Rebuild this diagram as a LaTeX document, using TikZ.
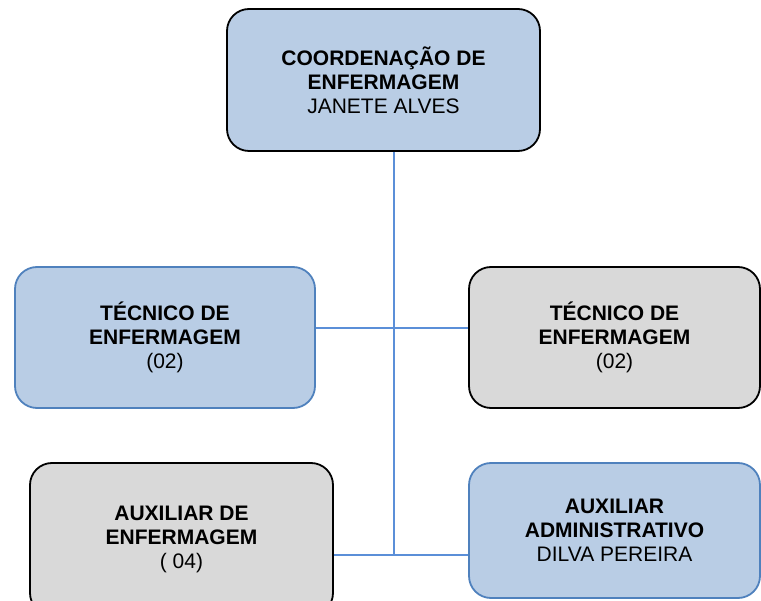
\documentclass[tikz,border=0pt]{standalone}
\usepackage{fontspec}
\setmainfont{Liberation Sans}
\usepackage{tikz}
\usetikzlibrary{positioning}

\definecolor{caixaazul}{HTML}{B9CDE5}
\definecolor{bordaazul}{HTML}{4F81BD}
\definecolor{caixacinza}{HTML}{D9D9D9}
\definecolor{linhaazul}{HTML}{5B8FD8}

\begin{document}
\begin{tikzpicture}[
		x=1pt, y=-1pt,
		cargo/.style={
			rectangle,
			rounded corners=22pt,
			line width=1.8pt,
			align=center,
			font=\fontsize{21}{24}\selectfont,
			inner sep=0pt
		},
		azul/.style={
			cargo,
			draw=bordaazul,
			fill=caixaazul
		},
		cinza/.style={
			cargo,
			draw=black,
			fill=caixacinza
		},
		ligacao/.style={
			linhaazul,
			line width=1.4pt
		}
		]
		\useasboundingbox (0,0) rectangle (761,601);
		% Nodes
		\node[azul, draw=black, minimum width=313pt, minimum height=142pt]
		(coord) at (383.5,80)
		{\textbf{COORDENAÇÃO DE}\\\textbf{ENFERMAGEM}\\JANETE ALVES};
		\node[azul, minimum width=300pt, minimum height=141pt]
		(tecesq) at (165,337.5)
		{\textbf{TÉCNICO DE}\\\textbf{ENFERMAGEM}\\(02)};
		\node[cinza, minimum width=291pt, minimum height=141pt]
		(tecdir) at (614.5,337.5)
		{\textbf{TÉCNICO DE}\\\textbf{ENFERMAGEM}\\(02)};
		\node[cinza, minimum width=303pt, minimum height=152pt]
		(auxenf) at (181.5,539)
		{\textbf{AUXILIAR DE}\\\textbf{ENFERMAGEM}\\( 04)};
		\node[azul, minimum width=291pt, minimum height=135pt]
		(auxadm) at (614.5,530.5)
		{\textbf{AUXILIAR}\\\textbf{ADMINISTRATIVO}\\DILVA PEREIRA};
		% Connectors
		\coordinate (tronco) at (394,555);
		\draw[ligacao] (coord.south -| tronco) -- (tronco);
		\draw[ligacao] (tecesq.east |- 0,328) -- (tecdir.west |- 0,328);
		\draw[ligacao] (auxenf.east |- tronco) -- (auxadm.west |- tronco);
	\end{tikzpicture}
\end{document}
